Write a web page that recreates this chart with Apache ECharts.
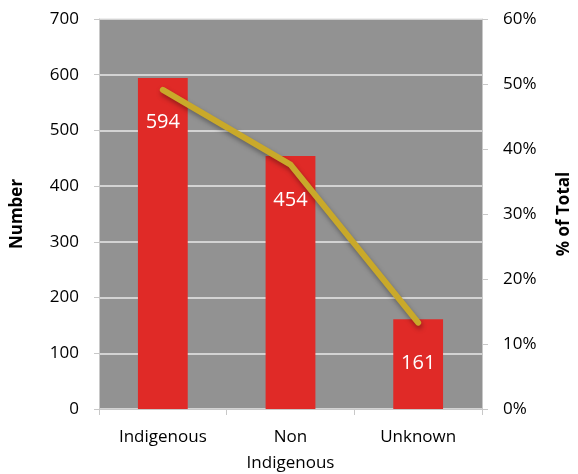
<!DOCTYPE html>
<html>
<head>
<meta charset="utf-8">
<script src="https://cdn.jsdelivr.net/npm/echarts@6/dist/echarts.min.js"></script>
<style>
  html, body { margin: 0; padding: 0; background: #fff; }
  #chart { width: 578px; height: 474px; }
</style>
</head>
<body>
<div id="chart"></div>
<script>
// data
const categories = ['Indigenous', 'Non\nIndigenous', 'Unknown'];
const counts = [594, 454, 161];
const pctOfTotal = [49.1, 37.6, 13.3];

const font = '"Open Sans", "Liberation Sans", sans-serif';

const chart = echarts.init(document.getElementById('chart'));
chart.setOption({
  backgroundColor: '#ffffff',
  animation: false,
  textStyle: { fontFamily: font },
  grid: {
    left: 99, right: 96, top: 19, bottom: 65,
    outerBoundsMode: 'none', containLabel: false,
    show: true, backgroundColor: '#929292', borderWidth: 0
  },
  xAxis: {
    type: 'category',
    data: categories,
    axisLine: { lineStyle: { color: '#c8c8c8', width: 1 } },
    axisTick: { show: true, length: 6, lineStyle: { color: '#c8c8c8' } },
    axisLabel: { color: '#000', fontSize: 17, lineHeight: 26, margin: 15, fontFamily: font }
  },
  yAxis: [
    {
      type: 'value', min: 0, max: 700, interval: 100,
      name: 'Number', nameLocation: 'middle', nameGap: 73, nameRotate: 90,
      nameTextStyle: { color: '#000', fontSize: 17, fontWeight: 'bold', fontFamily: font },
      axisLine: { show: true, lineStyle: { color: '#c8c8c8' } },
      axisTick: { show: true, length: 5, lineStyle: { color: '#c8c8c8' } },
      axisLabel: { color: '#000', fontSize: 17, margin: 20, fontFamily: font },
      splitLine: { show: true, lineStyle: { color: '#e8e8e8', width: 1.5 } }
    },
    {
      type: 'value', min: 0, max: 60, interval: 10,
      position: 'right',
      name: '% of Total', nameLocation: 'middle', nameGap: 74, nameRotate: 90,
      nameTextStyle: { color: '#000', fontSize: 17, fontWeight: 'bold', fontFamily: font },
      axisLine: { show: true, lineStyle: { color: '#c8c8c8' } },
      axisTick: { show: true, length: 6, lineStyle: { color: '#c8c8c8' } },
      axisLabel: { color: '#000', fontSize: 17, margin: 21, formatter: '{value}%', fontFamily: font },
      splitLine: { show: false }
    }
  ],
  series: [
    {
      type: 'bar',
      data: counts,
      barWidth: '39%',
      itemStyle: { color: '#e02a27' },
      label: {
        show: true, position: 'insideTop', distance: 34,
        color: '#fff', fontSize: 20, fontFamily: font
      }
    },
    {
      type: 'line',
      yAxisIndex: 1,
      data: pctOfTotal,
      symbol: 'none',
      lineStyle: {
        color: '#c9a92a', width: 6, cap: 'round', join: 'round',
        shadowColor: 'rgba(0,0,0,0.35)', shadowBlur: 5, shadowOffsetX: 1, shadowOffsetY: 3
      },
      z: 5
    }
  ]
});
</script>
</body>
</html>
